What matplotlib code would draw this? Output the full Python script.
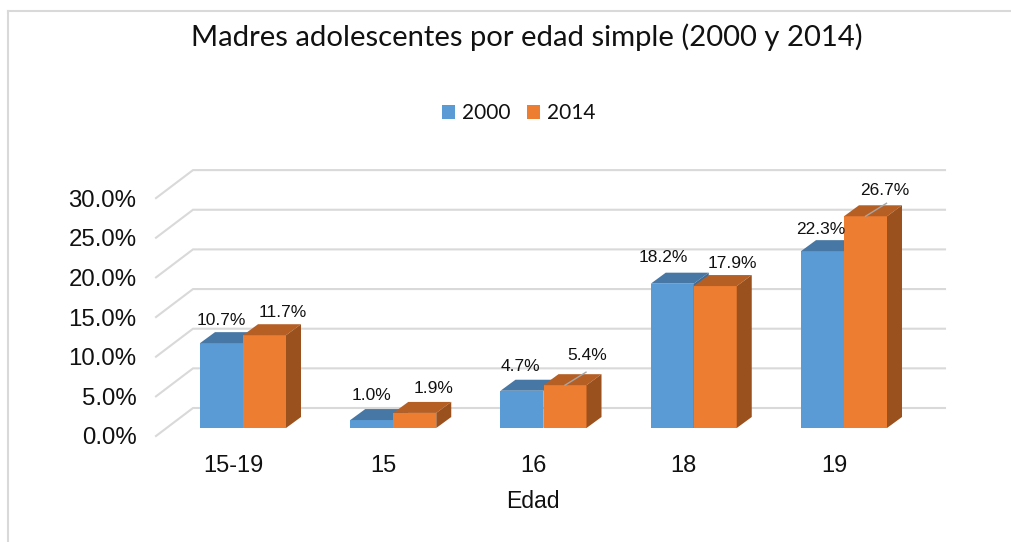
from __future__ import annotations

import matplotlib

matplotlib.use("Agg")
import matplotlib.pyplot as plt
from matplotlib.lines import Line2D
from matplotlib.patches import Patch, Polygon

categories = ["15-19", "15", "16", "18", "19"]
values_2000 = [10.7, 1.0, 4.7, 18.2, 22.3]
values_2014 = [11.7, 1.9, 5.4, 17.9, 26.7]
grid_values = [0, 5, 10, 15, 20, 25, 30]
leader_2014 = [False, False, True, False, True]

# label offsets from the top of each bar, in pixels
dx_2000 = [-0.5, -0.5, -2, -9, -1.5]
dy_2000 = [23, 25, 24, 26, 22]
dx_2014 = [18.5, 18.5, 22, 17.5, 19.5]
dy_2014 = [23, 24, 30, 23, 26]

W, H = 1011, 542
PX_X = 150.25  # pixels per category
PX_Y = 7.93  # pixels per percent
X0, Y0 = 243, 428  # pixel position of first category at value 0
BAR_W = 43 / PX_X
DEPTH_X = 15 / PX_X
DEPTH_Y = 11 / PX_Y

BLUE, BLUE_TOP, BLUE_SIDE = "#5B9BD5", "#4677A5", "#3F6C96"
ORANGE, ORANGE_TOP, ORANGE_SIDE = "#ED7D31", "#B65F24", "#9A511D"
GRID = "#D9D9D9"


def px_to_x(px):
    return (px - X0) / PX_X


def px_to_y(py):
    return (Y0 - py) / PX_Y


def draw_bar(ax, left, val, front, top, side):
    ax.bar(left, val, width=BAR_W, align="edge", color=front, linewidth=0, zorder=3)
    ax.add_patch(Polygon(
        [(left, val), (left + BAR_W, val),
         (left + BAR_W + DEPTH_X, val + DEPTH_Y), (left + DEPTH_X, val + DEPTH_Y)],
        closed=True, facecolor=top, linewidth=0, zorder=3, clip_on=False))
    ax.add_patch(Polygon(
        [(left + BAR_W, 0), (left + BAR_W + DEPTH_X, DEPTH_Y),
         (left + BAR_W + DEPTH_X, val + DEPTH_Y), (left + BAR_W, val)],
        closed=True, facecolor=side, linewidth=0, zorder=3, clip_on=False))


def label_bar(ax, x, val, dx, dy):
    ax.annotate(f"{val:.1f}%", (x, val), xytext=(dx * 0.72, dy * 0.72),
                textcoords="offset points", ha="center", va="center",
                fontsize=12.5, family="Liberation Sans", color="#111111", zorder=5)


def main() -> None:
    fig = plt.figure(figsize=(W / 100, H / 100), dpi=100, facecolor="white")
    left, right, top, bottom = 156, 945, 170, 436
    ax = fig.add_axes([left / W, 1 - bottom / H, (right - left) / W, (bottom - top) / H])
    ax.set_xlim(px_to_x(left), px_to_x(right))
    ax.set_ylim(px_to_y(bottom), px_to_y(top))
    ax.patch.set_visible(False)
    for s in ax.spines.values():
        s.set_visible(False)

    # back wall gridlines with the short diagonal on the side wall
    front_off = px_to_y(436)
    back_off = px_to_y(408)
    x_front, x_back, x_end = px_to_x(156), px_to_x(193), px_to_x(945)
    for v in grid_values:
        ax.plot([x_front, x_back, x_end], [v + front_off, v + back_off, v + back_off],
                color=GRID, lw=1.5, zorder=1, clip_on=False, solid_joinstyle="miter")

    for i, cat in enumerate(categories):
        draw_bar(ax, i - BAR_W, values_2000[i], BLUE, BLUE_TOP, BLUE_SIDE)
        draw_bar(ax, i, values_2014[i], ORANGE, ORANGE_TOP, ORANGE_SIDE)
        label_bar(ax, i - BAR_W / 2, values_2000[i], dx_2000[i], dy_2000[i])
        label_bar(ax, i + BAR_W / 2, values_2014[i], dx_2014[i], dy_2014[i])
        if leader_2014[i]:
            xc = i + BAR_W / 2
            ax.plot([xc, xc + 21 / PX_X], [values_2014[i], values_2014[i] + 13 / PX_Y],
                    color="#A6A6A6", lw=1, zorder=4, clip_on=False)

    ax.set_xticks([i - 10 / PX_X for i in range(len(categories))], categories)
    ax.set_yticks([v + front_off for v in grid_values], [f"{v:.1f}%" for v in grid_values])
    ax.tick_params(axis="both", length=0, colors="#111111")
    ax.tick_params(axis="x", pad=13.5, labelsize=17, labelfontfamily="Liberation Sans")
    ax.tick_params(axis="y", pad=14, labelsize=17.3, labelfontfamily="Liberation Sans")
    ax.set_xlabel("Edad", fontsize=16.6, family="Liberation Sans", color="#111111")
    ax.xaxis.set_label_coords((533 - left) / (right - left), -(501 - bottom) / (bottom - top))
    ax.xaxis.label.set_va("center")

    fig.text(527 / W, 1 - 37 / H, "Madres adolescentes por edad simple (2000 y 2014)",
             ha="center", va="center", fontsize=21.1, family="Lato", color="#111111")

    handles = [Patch(facecolor=BLUE, label="2000"), Patch(facecolor=ORANGE, label="2014")]
    fig.legend(handles=handles, loc="center", bbox_to_anchor=(518.5 / W, 1 - 113 / H),
               ncol=2, frameon=False, prop={"family": "Lato", "size": 15},
               handlelength=0.65, handleheight=0.65, handletextpad=0.31,
               columnspacing=0.8, borderpad=0, labelcolor="#111111")

    # chart frame
    fig.add_artist(Line2D([8 / W, 8 / W], [0, 1 - 11 / H], color=GRID, lw=1.5))
    fig.add_artist(Line2D([8 / W, 1], [1 - 11 / H, 1 - 11 / H], color=GRID, lw=1.5))

    fig.savefig("out.png", dpi=100)
    plt.close(fig)


if __name__ == "__main__":
    main()
